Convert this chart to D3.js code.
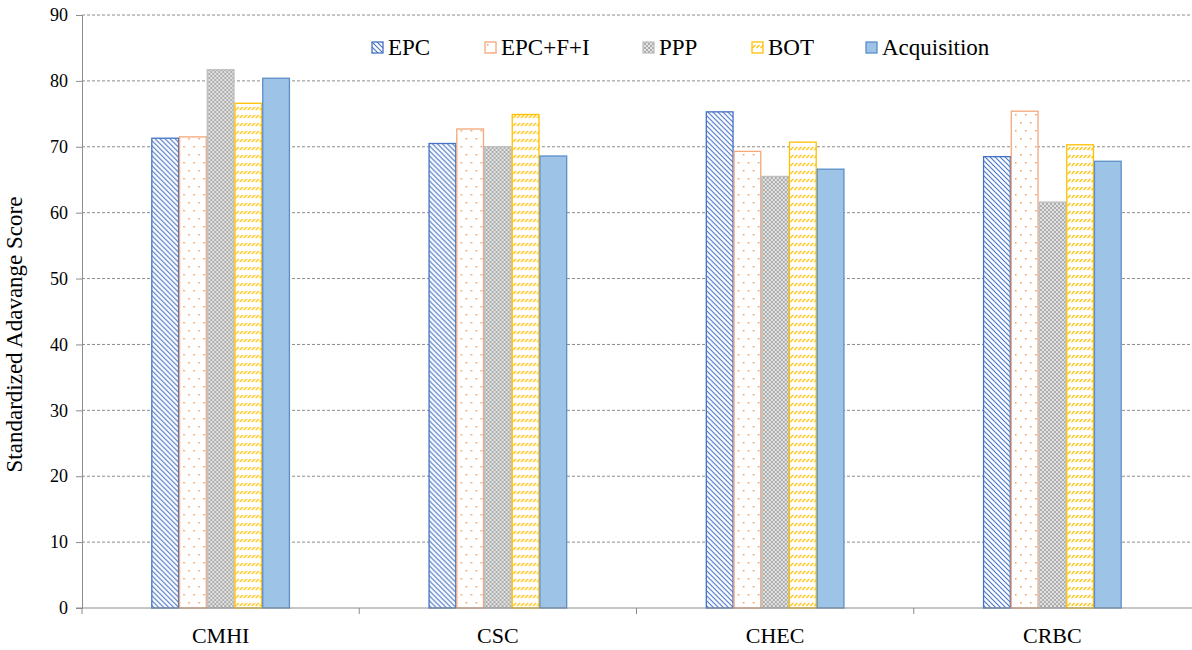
<!DOCTYPE html>
<html>
<head>
<meta charset="utf-8">
<script src="https://cdn.jsdelivr.net/npm/d3@7"></script>
<style>
  body { margin: 0; background: #fff; }
  svg text { font-family: "Liberation Serif", "Times New Roman", serif; fill: #000; }
</style>
</head>
<body>
<svg id="chart" width="1192" height="650"></svg>
<script>
// data
const categories = ["CMHI", "CSC", "CHEC", "CRBC"];
const seriesNames = ["EPC", "EPC+F+I", "PPP", "BOT", "Acquisition"];
const epc      = [71.3, 70.5, 75.3, 68.5];
const epcFI    = [71.5, 72.7, 69.3, 75.4];
const ppp      = [81.7, 70.0, 65.5, 61.6];
const bot      = [76.6, 74.9, 70.7, 70.3];
const acq      = [80.4, 68.6, 66.6, 67.8];
const yTicks   = [0, 10, 20, 30, 40, 50, 60, 70, 80, 90];

const seriesValues = [epc, epcFI, ppp, bot, acq];

const svg = d3.select("#chart");
const margin = { left: 82, right: 1, top: 15, bottom: 42 };
const W = 1192, H = 650;

const x = d3.scaleBand().domain(categories).range([margin.left, W - margin.right]);
const xs = d3.scaleBand().domain(seriesNames).range([0, x.bandwidth() / 2]);
const y = d3.scaleLinear().domain([0, 90]).range([H - margin.bottom, margin.top]);

// patterns
const defs = svg.append("defs");
// EPC: blue diagonal hatch (\\\)
const pEpc = defs.append("pattern").attr("id", "pEpc").attr("patternUnits", "userSpaceOnUse")
  .attr("width", 5).attr("height", 5);
pEpc.append("rect").attr("width", 5).attr("height", 5).attr("fill", "#fff");
pEpc.append("path").attr("d", "M-1,-1 L6,6 M-1,4 L1,6 M4,-1 L6,1").attr("stroke", "#4472C4").attr("stroke-width", 1.1);
// EPC+F+I: sparse orange dots
const pFi = defs.append("pattern").attr("id", "pFi").attr("patternUnits", "userSpaceOnUse")
  .attr("width", 10).attr("height", 16);
pFi.append("rect").attr("width", 10).attr("height", 16).attr("fill", "#fff");
pFi.append("rect").attr("x", 2).attr("y", 2).attr("width", 1.5).attr("height", 1.5).attr("fill", "#F19A5E");
pFi.append("rect").attr("x", 7).attr("y", 10).attr("width", 1.5).attr("height", 1.5).attr("fill", "#F19A5E");
// PPP: gray small checker / crosses
const pPpp = defs.append("pattern").attr("id", "pPpp").attr("patternUnits", "userSpaceOnUse")
  .attr("width", 4).attr("height", 4);
pPpp.append("rect").attr("width", 4).attr("height", 4).attr("fill", "#e4e4e4");
pPpp.append("path").attr("d", "M0,0 L4,4 M4,0 L0,4").attr("stroke", "#a5a5a5").attr("stroke-width", 0.9);
// BOT: gold short dashed upward diagonals in rows
const pBot = defs.append("pattern").attr("id", "pBot").attr("patternUnits", "userSpaceOnUse")
  .attr("width", 4).attr("height", 8);
pBot.append("rect").attr("width", 4).attr("height", 8).attr("fill", "#fff");
pBot.append("path").attr("d", "M0.5,6 L3.5,3").attr("stroke", "#FFC000").attr("stroke-width", 1.3);

const fills = ["url(#pEpc)", "url(#pFi)", "url(#pPpp)", "url(#pBot)", "#9DC3E6"];
const strokes = ["#4472C4", "#F4A77A", "#BFBFBF", "#FFC000", "#5B8FC9"];

// gridlines
svg.append("g").selectAll("line").data(yTicks.filter(d => d > 0)).join("line")
  .attr("x1", margin.left).attr("x2", W - margin.right)
  .attr("y1", d => y(d)).attr("y2", d => y(d))
  .attr("stroke", "#8c8c8c").attr("stroke-dasharray", "3,2").attr("stroke-width", 1);

// bars
const groups = svg.append("g").selectAll("g").data(categories).join("g")
  .attr("transform", c => `translate(${x(c) + x.bandwidth() / 4},0)`);
groups.selectAll("rect").data((c, ci) => seriesNames.map((s, si) => ({ s, si, v: seriesValues[si][ci] })))
  .join("rect")
  .attr("x", d => xs(d.s) + 0.5)
  .attr("width", xs.bandwidth() - 1)
  .attr("y", d => y(d.v))
  .attr("height", d => y(0) - y(d.v))
  .attr("fill", d => fills[d.si])
  .attr("stroke", d => strokes[d.si])
  .attr("stroke-width", 1.3);

// y axis
const yAxis = svg.append("g").attr("transform", `translate(${margin.left},0)`)
  .call(d3.axisLeft(y).tickValues(yTicks).tickSize(6).tickPadding(8));
yAxis.select(".domain").attr("stroke", "#8c8c8c");
yAxis.selectAll(".tick line").attr("stroke", "#8c8c8c");
yAxis.selectAll("text").attr("font-size", 18).attr("font-family", "Liberation Serif");

// x axis
const xg = svg.append("g").attr("transform", `translate(0,${y(0)})`);
xg.append("line").attr("x1", margin.left - 6).attr("x2", W).attr("stroke", "#8c8c8c");
xg.selectAll("line.tk").data(categories).join("line").attr("class", "tk")
  .attr("x1", c => x(c)).attr("x2", c => x(c)).attr("y1", 0).attr("y2", 6).attr("stroke", "#8c8c8c");
xg.selectAll("text").data(categories).join("text")
  .attr("x", c => x(c) + x.bandwidth() / 2).attr("y", 35)
  .attr("text-anchor", "middle").attr("font-size", 22).text(c => c);

// y title
svg.append("text").attr("transform", `translate(22,${(y(0) + y(90)) / 2 + 23}) rotate(-90)`)
  .attr("text-anchor", "middle").attr("font-size", 23).text("Standardized Adavange Score");

// legend
const legendX = [372, 485, 643, 752, 866];
const lg = svg.append("g").selectAll("g").data(seriesNames).join("g")
  .attr("transform", (d, i) => `translate(${legendX[i]},42)`);
lg.append("rect").attr("width", 11).attr("height", 11)
  .attr("fill", (d, i) => fills[i]).attr("stroke", (d, i) => strokes[i]).attr("stroke-width", 1.3);
lg.append("text").attr("x", 16).attr("y", 13).attr("font-size", 23).text(d => d);
</script>
</body>
</html>
